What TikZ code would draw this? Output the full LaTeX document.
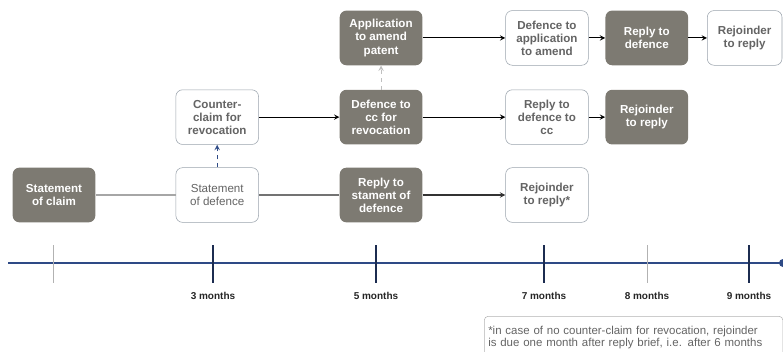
\documentclass[tikz,border=0pt]{standalone}
\usepackage{fontspec}
\setmainfont{Liberation Sans}
\usetikzlibrary{positioning,arrows}
\definecolor{stone}{HTML}{7D7A72}
\definecolor{edgegrey}{HTML}{9AA3AC}
\definecolor{txtgrey}{HTML}{646464}
\definecolor{lineblue}{HTML}{2E4A86}
\tikzset{
	every picture/.style={x=0.75pt, y=-0.75pt},
	stage/.style={rectangle, rounded corners=5pt, minimum width=62pt, minimum height=41pt, inner sep=1pt, align=center, font=\fontsize{8.7}{9.8}\selectfont\bfseries},
	darkstage/.style={stage, fill=stone, text=white},
	lightstage/.style={stage, draw=edgegrey, fill=white, text=txtgrey},
	flow/.style={->, >=stealth, thick, black},
	tick/.style={line width=0.8pt, lineblue!60!black},
	faint tick/.style={line width=0.6pt, black!30},
	month/.style={font=\fontsize{7.5}{8}\selectfont\bfseries, text=black!85},
}

\begin{document}
\begin{tikzpicture}
	\useasboundingbox (0,0) rectangle (783,351);
	\node[darkstage] (claim) at (54,195) {Statement\\of claim};
	\node[lightstage, right = 60pt of claim, font=\fontsize{8.7}{9.8}\selectfont] (sod) {Statement\\of defence};
	\node[lightstage, above = 17pt of sod] (cc) {Counter-\\claim for\\revocation};
	\node[darkstage, right = 60.5pt of sod] (replysod) {Reply to\\stament of\\defence};
	\node[darkstage, right = 60.5pt of cc] (dcc) {Defence to\\cc for\\revocation};
	\node[darkstage, above = 18pt of dcc] (amend) {Application\\to amend\\patent};
	\node[lightstage, right = 62pt of amend] (damend) {Defence to\\application\\to amend};
	\node[darkstage, right = 12.5pt of damend] (rdef) {Reply to\\defence};
	\node[lightstage, right = 14pt of rdef, minimum width=56pt] (rejtop) {Rejoinder\\to reply};
	\node[lightstage, right = 62pt of dcc] (rdcc) {Reply to\\defence to\\cc};
	\node[darkstage, right = 12.5pt of rdcc] (rejmid) {Rejoinder\\to reply};
	\node[lightstage, right = 62pt of replysod] (rejlow) {Rejoinder\\to reply*};

	\draw[black!35, thick] (claim) -- (sod);
	\draw[black!55, thick] (sod) -- (replysod);
	\draw[->, >=stealth, thick, dashed, lineblue] (sod) -- (cc);
	\draw[->, >=stealth, thick, dashed, black!25] (dcc) -- (amend);
	\draw[flow] (cc) -- (dcc);
	\draw[flow] (dcc) -- (rdcc);
	\draw[flow] (rdcc) -- (rejmid);
	\draw[flow] (amend) -- (damend);
	\draw[flow] (damend) -- (rdef);
	\draw[flow] (rdef) -- (rejtop);
	\draw[flow, black!80] (replysod) -- (rejlow);

	% time line
	\coordinate (start) at (8,263);
	\coordinate (end) at (783,263);
	\draw[line width=2pt, lineblue] (start) -- (end);
	\fill[lineblue] (end) circle (4);
	\draw[faint tick] (53,245) -- (53,283);
	\draw[faint tick] (647,245) -- (647,283);
	\foreach \xpos/\label in {213/3, 376/5, 544/7, 749/9} {
		\draw[tick] (\xpos,245) -- (\xpos,283);
		\node[month] at (\xpos,296) {\label\ months};
	}
	\node[month] at (647,296) {8 months};

	\node[draw=black!30, rounded corners=3pt, anchor=north west, inner sep=3pt, align=left, text=txtgrey, text width=218pt, minimum height=32pt, font=\fontsize{8.6}{8.4}\selectfont] (note) at (484,316) {*in case of no counter-claim for revocation, rejoinder\\is due one month after reply brief, i.e. after 6 months};
\end{tikzpicture}
\end{document}
